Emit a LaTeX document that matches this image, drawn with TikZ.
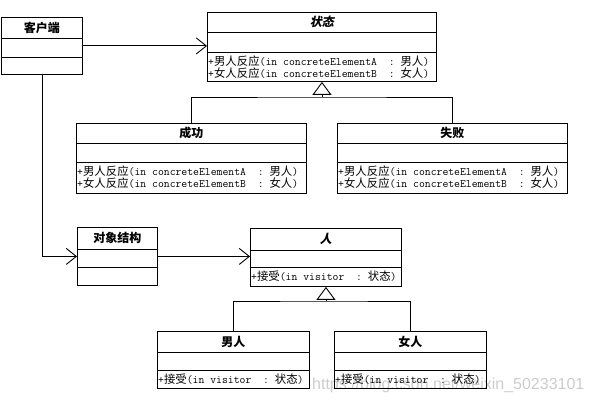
\documentclass[tikz,border=0pt]{standalone}
\usepackage{fontspec}
\newfontfamily\cjk{Noto Sans CJK SC}
\newfontfamily\cjksl{Noto Sans CJK SC}[FakeSlant=0.2]
\newfontfamily\wmfont{Liberation Sans}
\usetikzlibrary{arrows.meta}
\newcommand\cj[1]{{\cjk #1}}
\newcommand\tts[1]{\texttt{#1}}
\newcommand\mA{\tts{+}\cj{男人反应}\tts{(in concreteElementA\ \ :\ }\cj{男人}\tts{)}}
\newcommand\mB{\tts{+}\cj{女人反应}\tts{(in concreteElementB\ \ :\ }\cj{女人}\tts{)}}
\newcommand\mV{\tts{+}\cj{接受}\tts{(in visitor\ \ :\ }\cj{状态}\tts{)}}
\newcommand\umlbox[7]{%
 \node[cls, minimum width=#4pt, minimum height=#5pt] (#1) at (#2,#3) {};
 \draw[line] ([yshift=-#6pt]#1.north west) -- ([yshift=-#6pt]#1.north east);
 \draw[line] ([yshift=-#7pt]#1.north west) -- ([yshift=-#7pt]#1.north east);}
\begin{document}
\begin{tikzpicture}[x=1pt,y=-1pt,
  cls/.style={draw, line width=0.9pt, inner sep=0pt, anchor=north west},
  ttl/.style={font=\cjk\bfseries\fontsize{12}{12}\selectfont, inner sep=0pt},
  ttlsl/.style={font=\cjksl\bfseries\fontsize{12}{12}\selectfont, inner sep=0pt},
  ops/.style={font=\fontsize{11.4}{12}\selectfont, inner sep=0pt, anchor=west},
  assoc/.style={line width=0.9pt, -{Straight Barb[length=10pt,width=16pt,line width=0.9pt]}},
  gen/.style={line width=0.9pt, -{Triangle[open,length=13pt,width=19pt,line width=0.9pt]}},
  line/.style={line width=0.9pt}]
\useasboundingbox (0,0) rectangle (590,403);
\node[anchor=base west, font=\wmfont\fontsize{16}{16}\selectfont, text=gray!40, inner sep=0pt] (wm) at (312,390) {https://blog.csdn.net/weixin\_50233101};

\umlbox{client}{1}{17}{81}{57}{21}{40}
\umlbox{state}{207}{12}{229}{69}{20}{40}
\umlbox{succ}{76}{123}{230}{70}{20}{39}
\umlbox{fail}{337}{123}{230}{70}{20}{39}
\umlbox{obj}{77}{227}{80}{58}{22}{40}
\umlbox{person}{250}{228}{151}{58}{22}{39}
\umlbox{man}{157}{331}{152}{57}{21}{39}
\umlbox{woman}{334}{331}{152}{57}{21}{39}

\node[ttl] (clientT) at ([yshift=-10.5pt]client.north) {客户端};
\node[ttlsl] (stateT) at ([yshift=-10pt]state.north) {状态};
\node[ttl] (succT) at ([yshift=-10pt]succ.north) {成功};
\node[ttl] (failT) at ([yshift=-10pt]fail.north) {失败};
\node[ttl] (objT) at ([yshift=-11pt]obj.north) {对象结构};
\node[ttlsl] (personT) at ([yshift=-11pt]person.north) {人};
\node[ttl] (manT) at ([yshift=-10.5pt]man.north) {男人};
\node[ttl] (womanT) at ([yshift=-10.5pt]woman.north) {女人};

\node[ops] (stateA) at ([xshift=1pt,yshift=-49pt]state.north west) {\mA};
\node[ops] (stateB) at ([xshift=1pt,yshift=-61pt]state.north west) {\mB};
\node[ops] (succA) at ([xshift=1pt,yshift=-48pt]succ.north west) {\mA};
\node[ops] (succB) at ([xshift=1pt,yshift=-60pt]succ.north west) {\mB};
\node[ops] (failA) at ([xshift=1pt,yshift=-48pt]fail.north west) {\mA};
\node[ops] (failB) at ([xshift=1pt,yshift=-60pt]fail.north west) {\mB};
\node[ops] (personV) at ([xshift=1pt,yshift=-48pt]person.north west) {\mV};
\node[ops] (manV) at ([xshift=1pt,yshift=-48pt]man.north west) {\mV};
\node[ops] (womanV) at ([xshift=1pt,yshift=-48pt]woman.north west) {\mV};

\draw[assoc] (client.east) -- (client.east -| state.west);
\draw[assoc] (client.south) |- (obj.west);
\draw[assoc] (obj.east) -- (obj.east -| person.west);

\coordinate (j1) at (state.south |- 0,97);
\draw[line] (succ.north) |- (j1) -| (fail.north);
\draw[gen] (j1) -- (state.south);
\coordinate (j2) at (person.south |- 0,301);
\draw[line] (man.north) |- (j2) -| (woman.north);
\draw[gen] (j2) -- (person.south);
\end{tikzpicture}
\end{document}
